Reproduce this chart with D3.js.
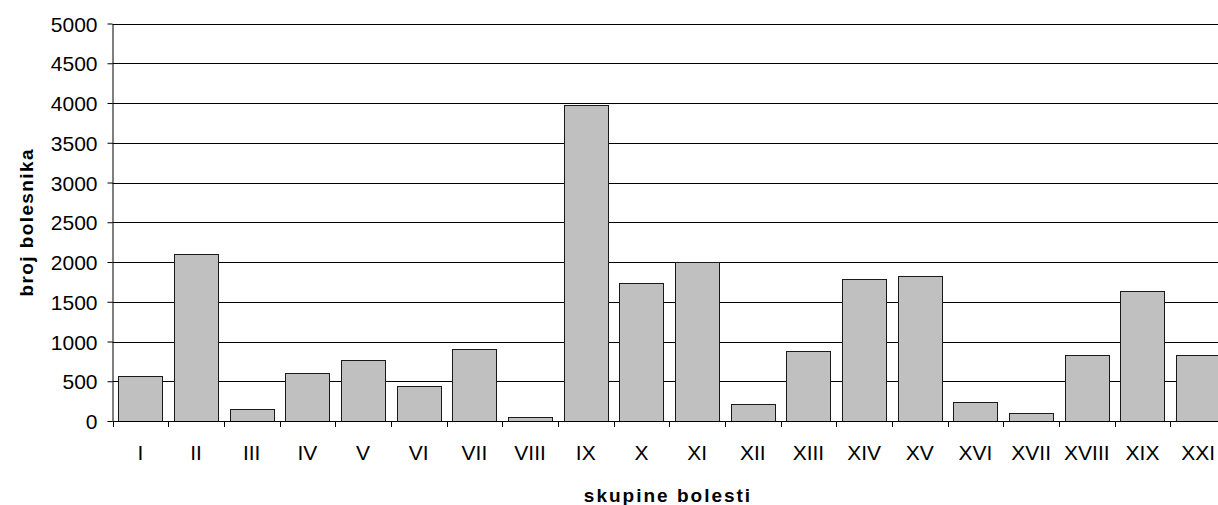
<!DOCTYPE html>
<html>
<head>
<meta charset="utf-8">
<script src="https://cdn.jsdelivr.net/npm/d3@7/dist/d3.min.js"></script>
<style>
  html, body { margin: 0; padding: 0; background: #fff; overflow: hidden; }
  svg { display: block; font-family: "Liberation Sans", Arial, sans-serif; }
</style>
</head>
<body>
<svg id="chart" width="1218" height="505"></svg>
<script>
const categories = ["I","II","III","IV","V","VI","VII","VIII","IX","X","XI","XII","XIII","XIV","XV","XVI","XVII","XVIII","XIX","XXI"];
const values = [570, 2100, 145, 600, 770, 445, 900, 45, 3970, 1730, 2005, 220, 875, 1780, 1830, 245, 95, 825, 1630, 825];
const yTicks = [0, 500, 1000, 1500, 2000, 2500, 3000, 3500, 4000, 4500, 5000];
const yTitle = "broj bolesnika";
const xTitle = "skupine bolesti";

(function () {
const svg = d3.select("#chart");
const W = 1218;
const left = 112.5, plotRight = 1226, plotTop = 23.5, plotBottom = 421;

const x = d3.scaleBand().domain(categories).range([left, plotRight])
  .paddingInner(0.21).paddingOuter(0.105);
const y = d3.scaleLinear().domain([0, 5000]).range([plotBottom, plotTop]);

// gridlines
svg.append("g").selectAll("line").data(yTicks.filter(d => d > 0)).join("line")
  .attr("x1", left).attr("x2", W)
  .attr("y1", d => Math.round(y(d)) + 0.5).attr("y2", d => Math.round(y(d)) + 0.5)
  .attr("stroke", "#000").attr("stroke-width", 1);

// bars
svg.append("g").selectAll("rect").data(values).join("rect")
  .attr("x", (d, i) => Math.round(x(categories[i])) + 0.5)
  .attr("y", d => Math.round(y(d)) + 0.5)
  .attr("width", Math.round(x.bandwidth()))
  .attr("height", d => Math.round(y(0)) - Math.round(y(d)))
  .attr("fill", "#c0c0c0").attr("stroke", "#1a1a1a").attr("stroke-width", 1);

// y axis
const yAxis = svg.append("g").attr("transform", `translate(${left},0)`)
  .call(d3.axisLeft(y).tickValues(yTicks).tickFormat(d3.format("d"))
    .tickSize(5).tickPadding(10).tickSizeOuter(0));
yAxis.selectAll("text").attr("font-size", "21px").attr("fill", "#000")
  .attr("font-family", "'Liberation Sans', Arial, sans-serif").attr("dy", "0.36em");
yAxis.selectAll("line").attr("stroke", "#000");
yAxis.select(".domain").attr("stroke", "#000");

// x axis
const xAxis = svg.append("g").attr("transform", `translate(0,${Math.round(plotBottom) + 0.5})`)
  .call(d3.axisBottom(x).tickSize(0).tickPadding(24).tickSizeOuter(0));
xAxis.select(".domain").attr("d", `M${left},0H${W}`).attr("stroke", "#000");
xAxis.selectAll("text").attr("font-size", "21px").attr("fill", "#000")
  .attr("font-family", "'Liberation Sans', Arial, sans-serif");

// category boundary ticks
const off = (x.step() - x.bandwidth()) / 2;
svg.append("g").selectAll("line").data(categories).join("line")
  .attr("x1", d => Math.round(x(d) - off) + 0.5).attr("x2", d => Math.round(x(d) - off) + 0.5)
  .attr("y1", Math.round(plotBottom)).attr("y2", Math.round(plotBottom) + 6)
  .attr("stroke", "#000");

// axis titles
svg.append("text")
  .attr("transform", `translate(33,${(plotTop + plotBottom) / 2}) rotate(-90)`)
  .attr("text-anchor", "middle").attr("font-size", "19px").attr("font-weight", "bold")
  .attr("letter-spacing", "1.4px").text(yTitle);

svg.append("text")
  .attr("x", 668).attr("y", 502)
  .attr("text-anchor", "middle").attr("font-size", "19px").attr("font-weight", "bold")
  .attr("letter-spacing", "2px").text(xTitle);
})();
</script>
</body>
</html>
